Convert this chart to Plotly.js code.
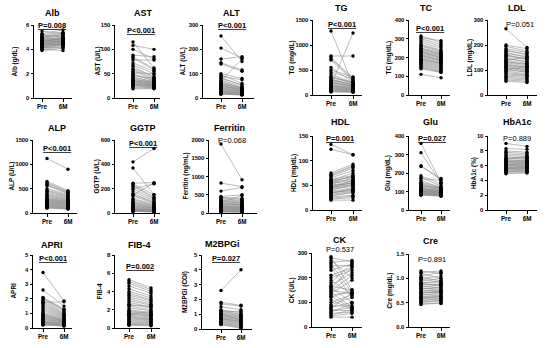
<!DOCTYPE html>
<html><head><meta charset="utf-8">
<script src="https://cdn.plot.ly/plotly-3.0.1.min.js"></script>
<style>html,body{margin:0;padding:0;background:#fff}#chart{width:550px;height:348px}</style>
</head><body><div id="chart"></div>
<script>
const groups = ['Pre', '6M'];

const albPre = [5.5,5.3,5.2,5.2,5.1,5.0,5.0,4.9,4.9,4.8,4.8,4.7,4.7,4.7,4.6,4.6,4.5,4.5,4.5,4.4,4.4,4.4,4.3,4.3,4.2,4.2,4.2,4.1,4.1,4.0,4.0,3.9,4.6,4.8,4.3,5.0];
const albPost = [5.3,5.6,5.4,5.0,5.3,5.2,4.8,5.1,4.7,5.0,4.9,4.9,4.6,4.8,4.9,4.5,4.8,4.7,4.4,4.7,4.6,4.3,4.6,4.5,4.5,4.4,4.1,4.4,4.3,4.2,3.9,4.1,4.9,4.6,4.5,5.2];
const astPre = [115,108,100,88,85,82,78,72,68,65,60,58,55,52,50,48,46,44,42,40,38,37,36,35,34,33,32,30,29,28,27,26,25,23,21,19];
const astPost = [62,100,80,85,60,58,78,55,50,42,45,40,38,50,35,36,40,32,34,30,33,28,30,31,26,28,25,27,24,26,22,24,22,21,20,19];
const altPre = [255,205,160,145,140,100,95,90,85,80,75,70,65,60,58,55,52,50,48,45,42,40,38,35,33,30,28,26,24,22,20,18,16,15,60,70];
const altPost = [150,165,170,115,110,80,60,75,50,55,45,40,42,35,38,30,32,28,36,25,30,26,22,24,20,18,21,16,19,15,14,13,12,14,40,160];
const alpPre = [1120,650,620,600,580,560,500,470,450,430,400,380,360,340,320,300,290,280,270,260,250,240,230,220,210,200,190,180,170,160,150,140,130,120,110,100];
const alpPost = [900,460,440,430,410,400,380,360,340,330,310,300,280,270,260,250,240,230,220,210,200,195,185,175,165,160,150,140,130,120,110,105,95,90,85,80];
const ggtpPre = [420,370,245,240,230,220,200,180,160,150,140,120,110,100,90,85,80,70,65,60,55,50,45,40,35,32,30,28,25,22,20,18,15,12,150,200];
const ggtpPost = [530,150,250,150,130,120,110,100,90,85,80,70,65,60,55,50,45,42,40,38,35,30,28,26,24,22,20,18,16,14,12,10,9,8,245,240];
const ferPre = [1890,820,600,450,430,410,390,360,340,320,300,280,260,240,220,200,190,180,170,160,150,140,130,120,110,100,90,80,70,60,50,40,30,25,300,250];
const ferPost = [910,720,700,500,400,380,350,330,300,290,480,250,240,230,210,190,180,170,160,150,140,130,120,110,100,95,85,75,65,55,45,35,28,20,280,230];
const apriPre = [3.8,2.6,2.1,2.05,2.0,1.9,1.8,1.7,1.6,1.5,1.4,1.3,1.2,1.1,1.0,0.95,0.9,0.85,0.8,0.75,0.7,0.65,0.6,0.55,0.5,0.45,0.42,0.4,0.38,0.35,0.3,0.28,0.25,0.22,0.2,1.75];
const apriPost = [1.85,1.5,1.3,1.25,1.2,1.1,1.0,0.95,0.9,0.85,0.8,0.75,0.7,0.65,0.6,0.55,0.52,0.5,0.48,0.45,0.42,0.4,0.38,0.35,0.32,0.3,0.28,0.26,0.25,0.22,0.2,0.18,0.16,0.15,0.14,1.8];
const fibPre = [5.3,5.1,4.9,4.6,4.3,4.0,3.8,3.6,3.4,3.2,3.0,2.8,2.6,2.4,2.2,2.0,1.9,1.8,1.7,1.6,1.5,1.4,1.3,1.2,1.1,1.0,0.9,0.8,0.7,0.6,0.5,0.4,0.35,0.3,2.5,1.5];
const fibPost = [4.4,4.2,4.0,3.8,3.5,3.3,3.1,3.0,2.8,2.6,2.5,2.3,2.2,2.0,1.9,1.7,1.6,1.5,1.4,1.35,1.3,1.2,1.1,1.0,0.95,0.9,0.8,0.7,0.6,0.55,0.45,0.4,0.3,0.25,2.4,1.8];
const m2Pre = [2.6,1.8,1.7,1.5,1.3,1.25,1.2,1.15,1.1,1.05,1.0,0.95,0.9,0.85,0.8,0.75,0.7,0.65,0.6,0.55,0.5,0.45,0.4,0.35,0.3,0.3,1.0,0.7];
const m2Post = [4.0,1.6,1.55,1.3,1.1,1.0,0.95,1.2,0.9,0.85,0.8,0.75,0.7,0.65,0.6,0.55,0.5,0.45,0.4,0.35,0.3,0.25,0.2,0.15,0.1,0.05,0.6,0.5];
const tgPre = [1280,780,760,720,700,550,500,460,420,380,350,320,300,280,260,240,220,200,190,180,170,160,150,140,130,120,110,100,90,80,70,60,200,250,300,350];
const tgPost = [200,780,300,350,280,250,360,320,240,230,260,200,220,190,180,170,160,150,140,130,125,120,110,100,95,90,80,75,70,65,60,55,1240,180,210,240];
const tcPre = [315,305,300,290,280,270,265,260,250,245,240,235,230,225,220,215,210,205,200,195,190,185,180,175,170,165,160,155,150,145,140,110,250,230,210,190];
const tcPost = [280,290,270,260,250,240,235,230,225,220,215,210,205,200,195,190,185,180,175,170,165,160,155,150,145,140,135,130,125,122,120,92,215,200,185,170];
const ldlPre = [265,200,195,185,180,175,170,165,160,155,150,145,140,135,130,125,120,115,110,105,100,95,90,85,80,75,70,65,60,55,140,120,100,160,130,110];
const ldlPost = [190,185,175,170,160,165,150,155,140,145,130,135,125,120,115,110,105,100,95,90,92,85,80,78,75,70,65,60,55,50,150,110,115,145,125,100];
const hdlPre = [133,123,75,72,70,68,65,62,60,58,56,54,52,50,48,46,45,44,42,40,38,36,35,34,32,30,28,26,24,22,20,55,45,35,60,50];
const hdlPost = [112,112,93,90,88,85,80,70,75,68,62,60,65,58,55,52,56,50,48,52,45,42,40,44,38,35,36,30,28,25,20,70,60,40,66,54];
const gluPre = [360,310,240,235,185,175,170,160,150,145,140,135,130,125,120,118,115,112,110,108,105,102,100,98,96,94,92,90,88,86,84,82,80,130,110,100];
const gluPost = [150,145,165,170,140,130,160,120,125,118,115,112,110,108,105,100,102,98,95,96,92,90,94,88,85,86,82,80,78,84,76,78,75,120,105,95];
const hbPre = [9.0,8.3,8.0,7.8,7.6,7.4,7.2,7.0,6.9,6.8,6.7,6.6,6.5,6.4,6.3,6.2,6.1,6.0,5.9,5.8,5.7,5.6,5.5,5.4,5.3,5.2,5.1,5.0,4.9,6.5,6.0,5.5,7.0,6.2,5.8,5.6];
const hbPost = [8.6,8.2,7.8,7.6,7.4,7.2,7.0,6.9,7.1,6.6,6.8,6.4,6.6,6.2,6.5,6.0,6.3,5.9,6.1,5.7,5.9,5.5,5.8,5.3,5.6,5.2,5.4,5.0,5.1,6.7,6.2,5.6,7.2,6.4,5.9,5.7];
const ckPre = [285,280,270,262,255,248,240,230,210,200,190,180,170,165,160,155,150,145,140,135,130,125,120,110,100,90,85,80,75,70,65,60,55,50,45,40];
const ckPost = [150,265,200,270,140,250,120,255,240,230,130,260,220,150,100,245,135,210,80,190,140,75,150,70,130,120,85,100,140,65,80,95,60,70,55,40];
const crePre = [1.15,1.12,1.1,1.05,1.02,1.0,0.98,0.95,0.92,0.9,0.88,0.86,0.84,0.82,0.8,0.78,0.76,0.74,0.72,0.7,0.68,0.66,0.64,0.62,0.6,0.58,0.56,0.54,0.52,0.5,0.48,0.46,0.9,0.8,0.7,0.6];
const crePost = [1.1,1.15,1.0,1.12,0.95,1.05,0.92,1.0,0.9,0.95,0.85,0.88,0.8,0.86,0.78,0.82,0.72,0.76,0.7,0.74,0.65,0.7,0.62,0.66,0.58,0.62,0.55,0.58,0.52,0.55,0.48,0.5,0.85,0.75,0.72,0.62];

const panelTitles = ['Alb','AST','ALT','ALP','GGTP','Ferritin','APRI','FIB-4','M2BPGi','TG','TC','LDL','HDL','Glu','HbA1c','CK','Cre'];
const yTitles = ['Alb (g/dL)','AST (U/L)','ALT (U/L)','ALP (U/L)','GGTP (U/L)','Ferritin (ng/mL)','APRI','FIB-4','M2BPGi (COI)','TG (mg/dL)','TC (mg/dL)','LDL (mg/dL)','HDL (mg/dL)','Glu (mg/dL)','HbA1c (%)','CK (U/L)','Cre (mg/dL)'];
const pLabels = ['P=0.008','P<0.001','P<0.001','P<0.001','P<0.001','P=0.068','P<0.001','P=0.002','P=0.027','P<0.001','P<0.001','P=0.051','P=0.001','P=0.027','P=0.889','P=0.537','P=0.891'];
const yMax = [6,150,300,1500,600,2000,5,8,5,1500,400,300,150,400,10,300,1.5];
const yStep = [2,50,100,500,200,500,1,2,1,500,100,100,50,100,2,100,0.5];
const preData = [albPre,astPre,altPre,alpPre,ggtpPre,ferPre,apriPre,fibPre,m2Pre,tgPre,tcPre,ldlPre,hdlPre,gluPre,hbPre,ckPre,crePre];
const postData = [albPost,astPost,altPost,alpPost,ggtpPost,ferPost,apriPost,fibPost,m2Post,tgPost,tcPost,ldlPost,hdlPost,gluPost,hbPost,ckPost,crePost];

// layout geometry (pixels): [axisLeft, preX, postX, axisEnd, top, bottom], title xy, p xy, ytitle x
const geo = [
 {b:[34,42,63,72,25,98], t:[52,13], p:[52,25], yt:14},
 {b:[115,133,154,160,25,98], t:[143,13], p:[141,31], yt:97},
 {b:[203,221,242,254,25,98], t:[231,13], p:[232,25], yt:182},
 {b:[33,47,68,77,140,213], t:[57,128], p:[57,148], yt:11},
 {b:[115,133,154,160,140,213], t:[143,128], p:[143,143], yt:96},
 {b:[209,221,242,257,140,213], t:[230,128], p:[232,140], yt:185},
 {b:[33,43,64,72,255,328], t:[52,245], p:[53,258], yt:13},
 {b:[115,129,151,160,255,328], t:[140,245], p:[140,266], yt:99},
 {b:[202,221,241,252,255,329], t:[222,244], p:[226,258], yt:185},
 {b:[313,331,353,362,20,95], t:[341,8], p:[342,24], yt:291},
 {b:[409,421,441,450,20,95], t:[426,8], p:[430,28], yt:388},
 {b:[488,506,527,537,20,95], t:[517,8], p:[520,24], yt:469},
 {b:[313,331,353,362,136,210], t:[340,122], p:[340,139], yt:294},
 {b:[409,421,441,450,136,210], t:[430,122], p:[432,138], yt:388},
 {b:[488,506,527,537,136,210], t:[517,122], p:[517,139], yt:474},
 {b:[312,331,352,362,253,327], t:[340,240], p:[340,249], yt:292},
 {b:[409,421,441,450,254,327], t:[430,241], p:[432,259], yt:389}
];

const W = 550, H = 348;
const FONT = 'Liberation Sans, Arial, sans-serif';
const data = [];
const layout = {
  width: W, height: H, margin: {l:0, r:0, t:0, b:0},
  paper_bgcolor: '#fff', plot_bgcolor: '#fff', showlegend: false,
  annotations: []
};

panelTitles.forEach((name, i) => {
  const g = geo[i], b = g.b;
  const n = i === 0 ? '' : String(i + 1);
  const unit = b[2] - b[1];
  const xr = [-(b[1] - b[0]) / unit, 1 + (b[3] - b[2]) / unit];
  const pre = preData[i], post = postData[i];
  const lx = [], ly = [];
  pre.forEach((v, k) => { lx.push(0, 1, null); ly.push(v, post[k], null); });
  data.push({type:'scatter', mode:'lines', x:lx, y:ly, xaxis:'x'+n, yaxis:'y'+n,
    line:{color:'#8c8c8c', width:0.6}, hoverinfo:'skip', cliponaxis:false});
  data.push({type:'scatter', mode:'markers',
    x: pre.map(() => 0).concat(post.map(() => 1)), y: pre.concat(post),
    xaxis:'x'+n, yaxis:'y'+n, cliponaxis:false,
    marker:{color:'#000', size:3.4}});
  const tickFont = {family: FONT, size: 5.8, color: '#000', weight: 'bold'};
  layout['xaxis'+n] = {domain:[b[0]/W, b[3]/W], range:xr, anchor:'y'+n,
    tickvals:[0,1], ticktext:groups, showline:true, linecolor:'#000', linewidth:1,
    ticks:'outside', ticklen:2.5, tickwidth:1, tickcolor:'#000', showgrid:false, zeroline:false,
    tickfont:{family: FONT, size: 6.3, color: '#000', weight: 'bold'}, fixedrange:true};
  layout['yaxis'+n] = {domain:[1 - b[5]/H, 1 - b[4]/H], range:[0, yMax[i]], anchor:'x'+n,
    tick0:0, dtick:yStep[i], showline:true, linecolor:'#000', linewidth:1,
    ticks:'outside', ticklen:2.5, tickwidth:1, tickcolor:'#000', showgrid:false, zeroline:false,
    tickfont:tickFont, tickformat: yMax[i] < 2 ? '.1f' : '', fixedrange:true};
  layout.annotations.push({xref:'paper', yref:'paper', x:g.t[0]/W, y:1 - g.t[1]/H,
    text:'<b>'+name+'</b>', showarrow:false, xanchor:'center', yanchor:'middle',
    font:{family:FONT, size:9, color:'#000'}});
  const sig = !/0\.0[5-9]|0\.[1-9]/.test(pLabels[i]);
  layout.annotations.push({xref:'paper', yref:'paper', x:g.p[0]/W, y:1 - g.p[1]/H,
    text: sig ? '<b><u>'+pLabels[i]+'</u></b>' : pLabels[i], showarrow:false,
    xanchor:'center', yanchor:'middle', font:{family:FONT, size:7.5, color:'#000'}});
  layout.annotations.push({xref:'paper', yref:'paper', x:g.yt/W, y:1 - (b[4]+b[5])/2/H,
    text:'<b>'+yTitles[i]+'</b>', showarrow:false, textangle:-90, xanchor:'center', yanchor:'middle',
    font:{family:FONT, size:6.4, color:'#000'}});
});

Plotly.newPlot('chart', data, layout, {staticPlot:true, displayModeBar:false});
</script></body></html>
